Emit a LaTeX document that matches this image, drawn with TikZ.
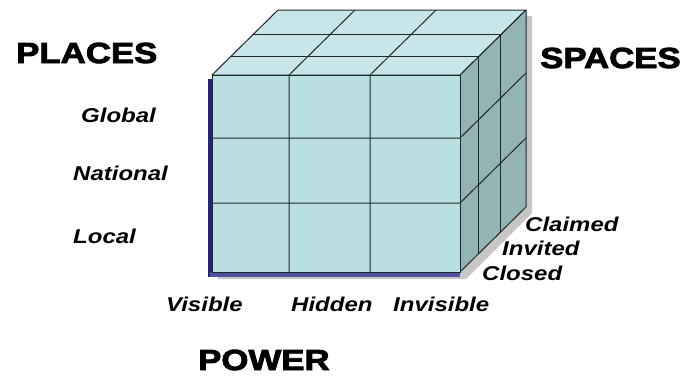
\documentclass[tikz,border=0pt]{standalone}
\usepackage{fontspec}
\setmainfont{Liberation Sans}[FakeStretch=1.2]
\newfontfamily\headfont{Liberation Sans}[FakeStretch=1.2,BoldFeatures={FakeBold=3}]
\definecolor{frontcol}{HTML}{B9DFE3}
\definecolor{topcol}{HTML}{C8E6E9}
\definecolor{sidecol}{HTML}{94B4B4}
\definecolor{edgecol}{HTML}{1E2828}
\definecolor{navycol}{HTML}{24247E}
\definecolor{purplecol}{HTML}{50509C}
\begin{document}
\begin{tikzpicture}[
    x=1pt, y=-1pt,
    face/.style={draw=edgecol, line width=1pt, line join=round},
    grid/.style={draw=edgecol, line width=1pt},
    head/.style={font=\headfont\bfseries\fontsize{29}{32}\selectfont, inner sep=0pt, anchor=base west},
    lab/.style={font=\bfseries\itshape\fontsize{20}{22}\selectfont, inner sep=0pt, anchor=base west}
]
    \useasboundingbox (0,0) rectangle (686,380);

    % shadows
    \fill[gray!45] (218,279) -- (466,279) -- (532,213) -- (532,16) -- (520,16)
        -- (520,207) -- (460,272) -- (218,272) -- cycle;
    \fill[navycol] (208,79) rectangle (212,277);
    \fill[purplecol] (210,272) rectangle (460,277);

    % cube faces
    \filldraw[face, fill=topcol] (212,75) -- (460,75) -- (526,10) -- (278,10) -- cycle;
    \filldraw[face, fill=sidecol] (460,75) -- (526,10) -- (526,207) -- (460,272) -- cycle;
    \filldraw[face, fill=frontcol] (212,75) rectangle (460,272);

    % front grid
    \foreach \x in {289,370}
        \draw[grid] (\x,75) -- (\x,272) (\x,75) -- ++(66,-65);
    \foreach \y in {138,203}
        \draw[grid] (212,\y) -- (460,\y) -- ++(66,-65);
    % depth layers
    \foreach \f in {0.28,0.62}
        \draw[grid] (212+66*\f,75-65*\f) -- (460+66*\f,75-65*\f) -- (460+66*\f,272-65*\f);

    % axis titles
    \node[head] (places) at (16,63) {PLACES};
    \node[head] (spaces) at (540,68) {SPACES};
    \node[head] (power) at (198,370) {POWER};

    % levels
    \node[lab] (global) at (81,122) {Global};
    \node[lab] (national) at (73,180) {National};
    \node[lab] (local) at (73,243) {Local};

    % forms of power
    \node[lab] (visible) at (166,311) {Visible};
    \node[lab] (hidden) at (291,311) {Hidden};
    \node[lab] (invisible) at (393,311) {Invisible};

    % spaces
    \node[lab] (claimed) at (525,231) {Claimed};
    \node[lab] (invited) at (502,255) {Invited};
    \node[lab] (closed) at (482,280) {Closed};
\end{tikzpicture}
\end{document}
